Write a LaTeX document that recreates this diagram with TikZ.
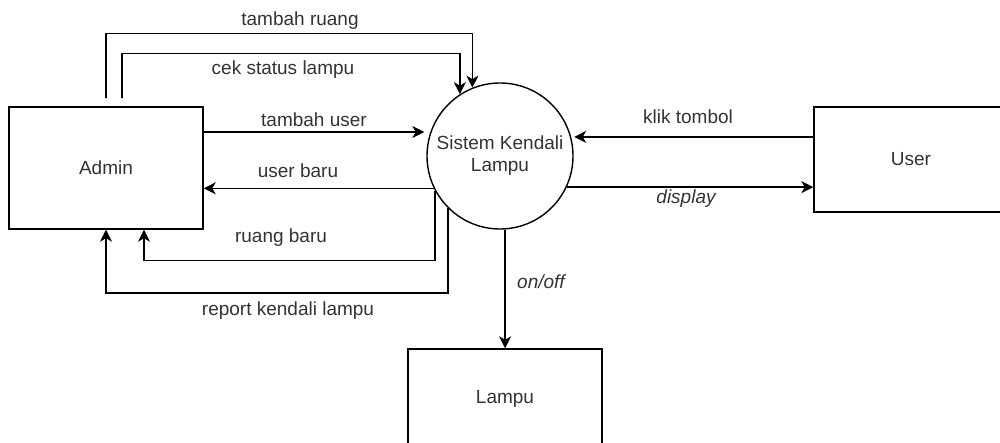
\documentclass[tikz,border=0pt]{standalone}
\usepackage{fontspec}
\setmainfont{Liberation Sans}
\usepackage{tikz}
\usetikzlibrary{positioning,arrows.meta,shapes}
\tikzset{entity/.style={draw, line width=1.4pt, minimum width=194pt, inner sep=0pt, text=black!80},
  proses/.style={draw, circle, line width=1.4pt, minimum size=146pt, inner sep=0pt, align=center, text=black!80},
  lbl/.style={inner sep=0pt, text=black!80},
  flow/.style={->, line width=1.4pt}}

\begin{document}
\begin{tikzpicture}[x=1pt, y=-1pt, font=\fontsize{19}{22}\selectfont,
  >={Stealth[length=12pt, width=12pt, inset=3.5pt]}]
\useasboundingbox (0,0) rectangle (1000,443);
\node[entity, minimum height=122pt] (admin) at (106,168) {Admin};
\node[proses] (sistem) at (500,156) {Sistem Kendali\\Lampu};
\node[entity, minimum height=105pt] (user) at (911,159.5) {User};
\node[entity, minimum height=100pt] (lampu) at (505,399) {Lampu};
% aliran admin ke sistem
\draw[flow] ([yshift=8pt]admin.north) -- ++(0,-65) -| (sistem.112);
\draw[flow] ([xshift=16pt,yshift=8pt]admin.north) -- ++(0,-45) -| (sistem.123);
\draw[flow, shorten >=6pt] (admin.east |- sistem.161) -- (sistem.161);
% aliran sistem ke admin
\draw[flow] (sistem.206) -- (sistem.206 -| admin.east);
\draw[flow] (sistem.208) -- ++(0,70) -| ([xshift=38pt]admin.south);
\draw[flow] (sistem.225) -- ++(0,85) -| (admin.south);
% user dan lampu
\draw[flow, shorten >=3pt] (user.west |- sistem.15) -- (sistem.15);
\draw[flow] (sistem.-25) -- (sistem.-25 -| user.west);
\draw[flow] (sistem.274) -- (sistem.274 |- lampu.north);
\node[lbl] (l1) at (300,21) {tambah ruang};
\node[lbl] (l2) at (283,70) {cek status lampu};
\node[lbl] (l3) at (314,119.5) {tambah user};
\node[lbl] (l4) at (298,171) {user baru};
\node[lbl] (l5) at (281,237.5) {ruang baru};
\node[lbl] (l6) at (288,311) {report kendali lampu};
\node[lbl] (l7) at (688,117) {klik tombol};
\node[lbl, font=\fontsize{19}{22}\selectfont\itshape] (l8) at (686,199) {display};
\node[lbl, font=\fontsize{19}{22}\selectfont\itshape] (l9) at (541,282) {on/off};
\end{tikzpicture}
\end{document}
